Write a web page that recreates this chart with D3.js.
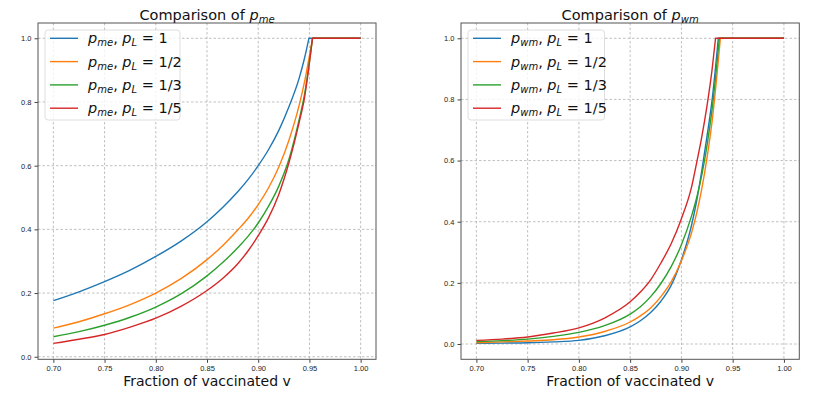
<!DOCTYPE html>
<html>
<head>
<meta charset="utf-8">
<script src="https://cdn.jsdelivr.net/npm/d3@7"></script>
<style>
    body { margin: 0; background: #fff; }
    svg { font-family: "DejaVu Sans", sans-serif; }
    .tick text { font-size: 7.5px; fill: #222; }
    .tick line { stroke: #444; }
    .domain { stroke: none; }
</style>
</head>
<body>
<svg id="chart" width="839" height="394"></svg>
<script>

// Values
const xTicks = [0.70, 0.75, 0.80, 0.85, 0.90, 0.95, 1.00];
const yTicks = [0.0, 0.2, 0.4, 0.6, 0.8, 1.0];

const seriesColors = ['#1f77b4', '#ff7f0e', '#2ca02c', '#d62728'];
const pLabels = ['1', '1/2', '1/3', '1/5'];

// left panel, p_me
const vLeft = [0.70, 0.725, 0.75, 0.775, 0.80, 0.825, 0.85, 0.865, 0.88, 0.89, 0.90, 0.91, 0.92, 0.93, 0.94, 0.945];
const pmeL1  = [0.176, 0.204, 0.236, 0.272, 0.315, 0.364, 0.424, 0.468, 0.518, 0.556, 0.600, 0.650, 0.710, 0.785, 0.875, 0.935];
const pmeL2  = [0.090, 0.110, 0.135, 0.164, 0.200, 0.246, 0.305, 0.348, 0.398, 0.434, 0.478, 0.530, 0.595, 0.680, 0.790, 0.860];
const pmeL3  = [0.063, 0.079, 0.099, 0.124, 0.156, 0.198, 0.254, 0.295, 0.342, 0.378, 0.420, 0.472, 0.535, 0.620, 0.745, 0.820];
const pmeL5  = [0.042, 0.055, 0.070, 0.093, 0.121, 0.159, 0.208, 0.245, 0.292, 0.332, 0.380, 0.436, 0.509, 0.609, 0.736, 0.810];
const pmePeak = [0.9495, 0.953, 0.953, 0.953];   // where each curve reaches 1

// right panel, p_wm
const vRight = [0.70, 0.725, 0.75, 0.775, 0.80, 0.825, 0.85, 0.86, 0.87, 0.88, 0.89, 0.90, 0.91, 0.915, 0.92, 0.925, 0.93];
const pwmL1  = [0.002, 0.003, 0.004, 0.007, 0.012, 0.027, 0.056, 0.076, 0.103, 0.140, 0.192, 0.275, 0.390, 0.470, 0.570, 0.680, 0.800];
const pwmL2  = [0.004, 0.007, 0.010, 0.014, 0.023, 0.041, 0.072, 0.092, 0.118, 0.155, 0.203, 0.272, 0.365, 0.430, 0.510, 0.610, 0.730];
const pwmL3  = [0.008, 0.011, 0.016, 0.025, 0.038, 0.060, 0.098, 0.122, 0.155, 0.198, 0.253, 0.325, 0.420, 0.480, 0.555, 0.650, 0.770];
const pwmL5  = [0.012, 0.016, 0.023, 0.036, 0.053, 0.085, 0.138, 0.170, 0.210, 0.265, 0.328, 0.410, 0.515, 0.595, 0.680, 0.780, 0.900];
const pwmPeak = [0.936, 0.938, 0.937, 0.9333];

const vEnd = 1.0;

const svg = d3.select('#chart');

// Build point list for one curve: rising part + flat part at 1
function buildSeries(grid, vals, peak) {
    let rise = grid.map((v, i) => [v, vals[i]]);
    rise.push([peak, 1]);
    return {rise: rise, flat: [[peak, 1], [vEnd, 1]]};
}

function drawPanel(opts) {

    const g = svg.append('g');
    const left = opts.left, right = opts.right, top = 23, bottom = 359.3;

    const x = d3.scaleLinear().domain([0.685, 1.015]).range([left, right]);
    const y = d3.scaleLinear().domain(opts.yDomain).range([bottom, top]);

    // grid
    g.append('g').selectAll('line')
        .data(xTicks)
        .join('line')
        .attr('x1', d => x(d)).attr('x2', d => x(d))
        .attr('y1', top).attr('y2', bottom)
        .attr('stroke', '#b0b0b0').attr('stroke-width', 0.8)
        .attr('stroke-dasharray', '2.5,2');

    g.append('g').selectAll('line')
        .data(yTicks)
        .join('line')
        .attr('x1', left).attr('x2', right)
        .attr('y1', d => y(d)).attr('y2', d => y(d))
        .attr('stroke', '#b0b0b0').attr('stroke-width', 0.8)
        .attr('stroke-dasharray', '2.5,2');

    // axes
    g.append('g')
        .attr('transform', `translate(0,${bottom})`)
        .call(d3.axisBottom(x).tickValues(xTicks).tickFormat(d3.format('.2f')).tickSize(3.5).tickPadding(3));

    g.append('g')
        .attr('transform', `translate(${left},0)`)
        .call(d3.axisLeft(y).tickValues(yTicks).tickFormat(d3.format('.1f')).tickSize(3.5).tickPadding(3));

    // curves
    const line = d3.line().x(d => x(d[0])).y(d => y(d[1])).curve(d3.curveMonotoneX);
    const flatLine = d3.line().x(d => x(d[0])).y(d => y(d[1]));

    opts.series.forEach((vals, i) => {
        let s = buildSeries(opts.grid, vals, opts.peaks[i]);
        g.append('path')
            .attr('d', line(s.rise) + flatLine(s.flat).replace('M', 'L'))
            .attr('fill', 'none')
            .attr('stroke', seriesColors[i])
            .attr('stroke-width', 1.4)
            .attr('stroke-linejoin', 'round');
    });

    // frame
    g.append('rect')
        .attr('x', left).attr('y', top)
        .attr('width', right - left).attr('height', bottom - top)
        .attr('fill', 'none').attr('stroke', '#555').attr('stroke-width', 1);

    // title
    let cx = (left + right) / 2;
    let title = g.append('text')
        .attr('x', cx).attr('y', 19.5)
        .attr('text-anchor', 'middle')
        .attr('font-size', 14.5)
        .attr('fill', '#111');
    title.append('tspan').text('Comparison of ');
    title.append('tspan').attr('font-style', 'italic').text('p');
    title.append('tspan').attr('font-style', 'italic').attr('font-size', 10).attr('dy', 3).text(opts.sub);

    g.append('text')
        .attr('x', cx).attr('y', 385.5)
        .attr('text-anchor', 'middle')
        .attr('font-size', 14)
        .attr('fill', '#111')
        .text('Fraction of vaccinated v');

    // legend
    const lx = left + 7;
    g.append('rect')
        .attr('x', lx).attr('y', 30)
        .attr('width', opts.legendW).attr('height', 90)
        .attr('rx', 3)
        .attr('fill', 'white').attr('fill-opacity', 0.8)
        .attr('stroke', '#d5d5d5').attr('stroke-width', 0.8);

    pLabels.forEach((lab, i) => {
        let ly = 38.3 + i * 23.3;
        g.append('line')
            .attr('x1', lx + 5).attr('x2', lx + 33)
            .attr('y1', ly).attr('y2', ly)
            .attr('stroke', seriesColors[i]).attr('stroke-width', 1.4);

        let t = g.append('text')
            .attr('x', lx + 43).attr('y', ly + 5)
            .attr('font-size', 14.5)
            .attr('fill', '#111');
        t.append('tspan').attr('font-style', 'italic').text('p');
        t.append('tspan').attr('font-style', 'italic').attr('font-size', 10).attr('dy', 3).text(opts.sub);
        t.append('tspan').attr('dy', -3).text(', ');
        t.append('tspan').attr('font-style', 'italic').text('p');
        t.append('tspan').attr('font-style', 'italic').attr('font-size', 10).attr('dy', 3).text('L');
        t.append('tspan').attr('dy', -3).text(' = ' + lab);
    });
}

drawPanel({
    left: 38, right: 376,
    yDomain: [-0.008, 1.048],
    grid: vLeft,
    series: [pmeL1, pmeL2, pmeL3, pmeL5],
    peaks: pmePeak,
    sub: 'me',
    legendW: 135
});

drawPanel({
    left: 461, right: 799.3,
    yDomain: [-0.05, 1.05],
    grid: vRight,
    series: [pwmL1, pwmL2, pwmL3, pwmL5],
    peaks: pwmPeak,
    sub: 'wm',
    legendW: 136.5
});

</script>
</body>
</html>
